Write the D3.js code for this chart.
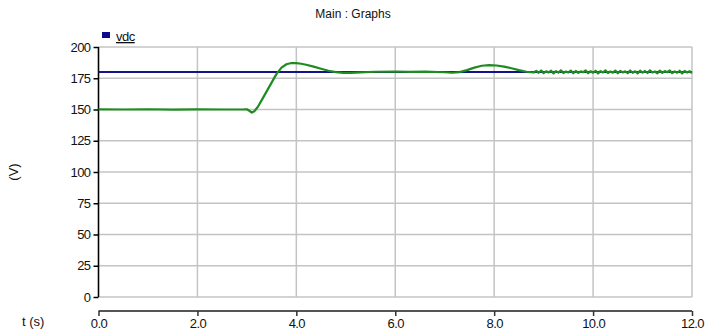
<!DOCTYPE html>
<html>
<head>
<meta charset="utf-8">
<script src="https://cdn.jsdelivr.net/npm/d3@7"></script>
<style>
  body { margin: 0; background: #fff; }
  svg { display: block; font-family: "Liberation Sans", Arial, sans-serif; }
</style>
</head>
<body>
<svg id="chart" width="707" height="335"></svg>
<script>
// Simulated DC-link voltage (green) and its 180 V reference (navy)
const timeS = [
  0, 0.5, 1.0, 1.5, 2.0, 2.5, 2.95, 3.0, 3.05, 3.1, 3.15, 3.22, 3.3, 3.4, 3.5, 3.6,
  3.7, 3.8, 3.9, 4.0, 4.1, 4.2, 4.35, 4.5, 4.65, 4.8, 4.95, 5.1, 5.3, 5.6, 6.0, 6.3,
  6.6, 7.0, 7.15, 7.3, 7.45, 7.6, 7.75, 7.9, 8.05, 8.2, 8.35, 8.5, 8.65, 8.8,
  8.85, 8.9, 8.95, 9.0, 9.05, 9.1, 9.15, 9.2, 9.25, 9.3, 9.35, 9.4, 9.45, 9.5, 9.55, 9.6,
  9.65, 9.7, 9.75, 9.8, 9.85, 9.9, 9.95, 10.0, 10.05, 10.1, 10.15, 10.2, 10.25, 10.3,
  10.35, 10.4, 10.45, 10.5, 10.55, 10.6, 10.65, 10.7, 10.75, 10.8, 10.85, 10.9, 10.95,
  11.0, 11.05, 11.1, 11.15, 11.2, 11.25, 11.3, 11.35, 11.4, 11.45, 11.5, 11.55, 11.6,
  11.65, 11.7, 11.75, 11.8, 11.85, 11.9, 11.95, 12.0
];
const vdcV = [
  150.1, 150.0, 150.2, 149.9, 150.1, 150.0, 150.1, 150.2, 149.0, 147.5, 148.6, 152.0, 157.5, 164.5, 171.5, 178.5,
  183.5, 186.2, 187.2, 187.1, 186.6, 185.8, 184.3, 182.6, 181.0, 179.9, 179.3, 179.3, 179.7, 180.2, 180.4, 180.1,
  180.3, 179.8, 179.4, 179.9, 181.5, 183.5, 185.0, 185.5, 185.2, 184.3, 183.0, 181.5, 180.2, 179.6,
  180.9, 179.4, 181.2, 179.1, 180.5, 179.7, 181.0, 178.9, 180.7, 179.5, 181.3, 179.2, 180.4, 179.6, 181.1, 179.0,
  180.8, 179.3, 180.5, 179.8, 181.2, 179.1, 180.6, 179.4, 181.0, 178.9, 180.7, 179.6, 181.3, 179.2,
  180.4, 179.5, 181.1, 179.0, 180.9, 179.7, 180.5, 179.1, 181.2, 179.4, 180.6, 178.9, 181.0,
  179.5, 180.8, 179.2, 181.3, 179.6, 180.4, 179.0, 181.1, 179.3, 180.7, 179.8, 181.2, 179.1,
  180.5, 179.4, 181.0, 178.9, 180.8, 179.6, 180.6, 179.2
];
const refT = [0, 12];
const refV = [180, 180];

const xTicks = [0, 2, 4, 6, 8, 10, 12];
const yTicks = [0, 25, 50, 75, 100, 125, 150, 175, 200];

const svg = d3.select("#chart");
const plotL = 98.5, plotR = 692, plotT = 47, plotB = 297, xAxisY = 311;

const x = d3.scaleLinear().domain([0, 12]).range([plotL, plotR]);
const y = d3.scaleLinear().domain([0, 200]).range([plotB, plotT]);

// title
svg.append("text").attr("x", 353).attr("y", 18).attr("text-anchor", "middle")
  .attr("font-size", 12).attr("fill", "#111").text("Main : Graphs");

// grid
const grid = svg.append("g").attr("stroke", "#c4c4c4").attr("stroke-width", 1.5);
yTicks.forEach(v => grid.append("line").attr("x1", plotL).attr("x2", plotR).attr("y1", y(v)).attr("y2", y(v)));
xTicks.forEach(v => grid.append("line").attr("x1", x(v)).attr("x2", x(v)).attr("y1", plotT).attr("y2", plotB));

// y axis
const yAxis = svg.append("g").attr("transform", `translate(${plotL},0)`)
  .call(d3.axisLeft(y).tickValues(yTicks).tickSize(5).tickPadding(3).tickFormat(d3.format("d")));
yAxis.select(".domain").attr("stroke", "#000").attr("stroke-width", 1.5).attr("d", `M0,${plotT}V${plotB}`);
yAxis.selectAll(".tick line").attr("stroke", "#000").attr("stroke-width", 1.5);
yAxis.selectAll(".tick text").attr("font-size", 13).attr("fill", "#111")
  .attr("font-family", "Liberation Sans, Arial, sans-serif").attr("letter-spacing", -0.6);

// x axis (detached below the plot)
const xAxis = svg.append("g").attr("transform", `translate(0,${xAxisY})`)
  .call(d3.axisBottom(x).tickValues(xTicks).tickSize(5).tickPadding(3).tickFormat(d3.format(".1f")));
xAxis.select(".domain").attr("stroke", "#555").attr("stroke-width", 2).attr("d", `M${plotL},0H${plotR}`);
xAxis.selectAll(".tick line").attr("stroke", "#333").attr("stroke-width", 1.5);
xAxis.selectAll(".tick text").attr("font-size", 13).attr("fill", "#111")
  .attr("font-family", "Liberation Sans, Arial, sans-serif").attr("letter-spacing", -0.6);

// axis titles
svg.append("text").attr("transform", "translate(18,172) rotate(-90)").attr("text-anchor", "middle")
  .attr("font-size", 13).attr("fill", "#111").text("(V)");
svg.append("text").attr("x", 22).attr("y", 326).attr("text-anchor", "start")
  .attr("font-size", 13).attr("fill", "#111").text("t (s)");

// series
const line = d3.line().x(d => x(d[0])).y(d => y(d[1]));
svg.append("path").datum(d3.zip(refT, refV)).attr("d", line)
  .attr("fill", "none").attr("stroke", "#12128c").attr("stroke-width", 1.8);
svg.append("path").datum(d3.zip(timeS, vdcV)).attr("d", line)
  .attr("fill", "none").attr("stroke", "#1e8c1e").attr("stroke-width", 2.2).attr("stroke-linejoin", "round");

// legend
svg.append("rect").attr("x", 102).attr("y", 32).attr("width", 8).attr("height", 6).attr("fill", "#0a0a8a");
svg.append("text").attr("x", 116).attr("y", 41).attr("font-size", 13).attr("fill", "#111")
  .attr("text-decoration", "underline").attr("letter-spacing", -0.5).text("vdc");
</script>
</body>
</html>
